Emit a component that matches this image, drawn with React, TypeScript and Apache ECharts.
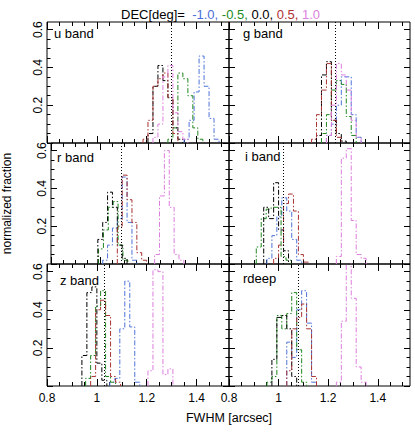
import React, { useEffect, useRef } from 'react';
import * as echarts from 'echarts';

// ---------- data ----------
const BIN_WIDTH = 0.02;
const DEC_VALUES = ['-1.0', '-0.5', '0.0', '0.5', '1.0'];
const BANDS = ['u band', 'g band', 'r band', 'i band', 'z band', 'rdeep'];
const MEDIAN_LINES = [1.3, 1.233, 1.094, 1.02, 1.035, 1.077];

const X_MAJOR = [0.8, 1.0, 1.2, 1.4];
const X_MINOR = [0.85, 0.9, 0.95, 1.05, 1.1, 1.15, 1.25, 1.3, 1.35, 1.45, 1.5];
const Y_MAJOR = [0, 0.2, 0.4, 0.6];
const Y_MINOR = [0.05, 0.1, 0.15, 0.25, 0.3, 0.35, 0.45, 0.5, 0.55];
const Y_LABELED = [0.2, 0.4, 0.6];

// first bin edge of each histogram, in DEC order (-1.0, -0.5, 0.0, 0.5, 1.0)
const U_STARTS = [1.35, 1.285, 1.205, 1.185, 1.225];
const U_FRACS = [
  [0.02, 0.12, 0.27, 0.46, 0.3, 0.13, 0.02],
  [0.02, 0.08, 0.37, 0.34, 0.25, 0.08, 0.02],
  [0.05, 0.3, 0.41, 0.33, 0.24, 0.08, 0.02],
  [0.02, 0.12, 0.3, 0.34, 0.37, 0.24, 0.05],
  [0.03, 0.1, 0.35, 0.41, 0.16, 0.06, 0.02],
];

const G_STARTS = [1.193, 1.173, 1.153, 1.133, 1.193];
const G_FRACS = [
  [0.04, 0.1, 0.2, 0.35, 0.35, 0.15, 0.03],
  [0.05, 0.15, 0.28, 0.33, 0.31, 0.14, 0.04],
  [0.04, 0.36, 0.43, 0.12, 0.05, 0.01],
  [0.02, 0.15, 0.28, 0.42, 0.12, 0.03],
  [0.04, 0.2, 0.42, 0.36, 0.28, 0.12, 0.03],
];

const R_STARTS = [1.012, 0.995, 0.992, 1.072, 1.225];
const R_FRACS = [
  [0.02, 0.1, 0.19, 0.24, 0.46, 0.22, 0.02],
  [0.08, 0.18, 0.3, 0.33, 0.1, 0.02],
  [0.13, 0.22, 0.38, 0.3, 0.1, 0.03],
  [0.2, 0.47, 0.34, 0.22, 0.06, 0.02],
  [0.05, 0.36, 0.6, 0.3, 0.05, 0.02],
];

const I_STARTS = [0.953, 0.91, 0.94, 0.98, 1.233];
const I_FRACS = [
  [0.03, 0.15, 0.25, 0.35, 0.28, 0.13, 0.02],
  [0.09, 0.24, 0.29, 0.3, 0.3, 0.04, 0.02],
  [0.3, 0.24, 0.43, 0.18, 0.07],
  [0.03, 0.1, 0.32, 0.37, 0.28, 0.05, 0.01],
  [0.04, 0.56, 0.61, 0.23, 0.05, 0.03],
];

const Z_STARTS = [1.052, 0.955, 0.94, 0.975, 1.205];
const Z_FRACS = [
  [0.02, 0.04, 0.3, 0.55, 0.31, 0.02],
  [0.04, 0.16, 0.42, 0.5, 0.05, 0.02],
  [0.16, 0.49, 0.52, 0.12, 0.03],
  [0.05, 0.4, 0.45, 0.37, 0.05, 0.02],
  [0.08, 0.61, 0.6, 0.06, 0.09],
];

const D_STARTS = [1.033, 0.953, 0.973, 1.033, 1.233];
const D_FRACS = [
  [0.23, 0.15, 0.4, 0.5, 0.33, 0.02],
  [0.02, 0.05, 0.37, 0.3, 0.38, 0.49, 0.19, 0.02],
  [0.14, 0.36, 0.37, 0.3, 0.05],
  [0.08, 0.3, 0.36, 0.43, 0.3, 0.05],
  [0.02, 0.34, 0.68, 0.46, 0.1, 0.02],
];

const ALL_STARTS = [U_STARTS, G_STARTS, R_STARTS, I_STARTS, Z_STARTS, D_STARTS];
const ALL_FRACS = [U_FRACS, G_FRACS, R_FRACS, I_FRACS, Z_FRACS, D_FRACS];

// ---------- style / layout ----------
const FONT = "'Liberation Sans', Arial, Helvetica, sans-serif";
const SERIES_COLORS = ['#4f74d9', '#1e861e', '#000000', '#a83232', '#dd7ddd'];
const TITLE_COLORS = ['#4a70d8', '#1e8a1e', '#000000', '#b03030', '#e080e0'];
const DASH_DOT = [5, 2, 1.5, 2];
const X_MIN = 0.8;
const X_MAX = 1.53;
const Y_MIN = 0;
const Y_MAX = 0.64;
const COL_LEFT = [47, 229];
const COL_WIDTH = [182, 181];
const ROW_TOP = [22, 143, 264];
const ROW_HEIGHT = [121, 121, 122];
const LABEL_POS = [
  [54, 33],
  [243, 33],
  [57, 157],
  [245, 156],
  [60, 280],
  [243, 278],
];

function stepPoints(start: number, fracs: number[]): number[][] {
  const pts: number[][] = [[start, 0]];
  fracs.forEach((f, i) => {
    const x0 = start + i * BIN_WIDTH;
    pts.push([x0, f], [x0 + BIN_WIDTH, f]);
  });
  pts.push([start + fracs.length * BIN_WIDTH, 0]);
  return pts;
}

function fmtX(v: number) {
  return Math.abs(v - 1) < 1e-9 ? '1' : v.toFixed(1);
}

function buildOption() {
  const grid: any[] = [];
  const xAxis: any[] = [];
  const yAxis: any[] = [];
  const series: any[] = [];
  const graphic: any[] = [];

  BANDS.forEach((band, p) => {
    const col = p % 2;
    const row = Math.floor(p / 2);
    grid.push({
      left: COL_LEFT[col],
      top: ROW_TOP[row],
      width: COL_WIDTH[col],
      height: ROW_HEIGHT[row],
      show: true,
      borderColor: '#000',
      borderWidth: 1,
      backgroundColor: 'transparent',
    });

    const xDefs: [string, number[], number, boolean][] = [
      ['bottom', X_MAJOR, 7, row === 2],
      ['bottom', X_MINOR, 4, false],
      ['top', X_MAJOR, 7, false],
      ['top', X_MINOR, 4, false],
    ];
    xDefs.forEach(([pos, ticks, len, lab]) => {
      xAxis.push({
        type: 'value',
        gridIndex: p,
        position: pos,
        min: X_MIN,
        max: X_MAX,
        splitLine: { show: false },
        axisLine: { show: false, onZero: false },
        axisTick: {
          show: true,
          inside: true,
          length: len,
          customValues: ticks,
          lineStyle: { color: '#000', width: 1 },
        },
        axisLabel: lab
          ? {
              show: true,
              customValues: X_MAJOR,
              formatter: fmtX,
              color: '#000',
              fontSize: 12,
              fontFamily: FONT,
              margin: 6,
            }
          : { show: false },
        axisPointer: { show: false },
      });
    });

    const yDefs: [string, number[], number, boolean][] = [
      ['left', Y_MAJOR, 6, col === 0],
      ['left', Y_MINOR, 3.5, false],
      ['right', Y_MAJOR, 6, false],
      ['right', Y_MINOR, 3.5, false],
    ];
    yDefs.forEach(([pos, ticks, len, lab], k) => {
      const ax: any = {
        type: 'value',
        gridIndex: p,
        position: pos,
        min: Y_MIN,
        max: Y_MAX,
        splitLine: { show: false },
        axisLine: { show: false, onZero: false },
        axisTick: {
          show: true,
          inside: true,
          length: len,
          customValues: ticks,
          lineStyle: { color: '#000', width: 1 },
        },
        axisLabel: lab
          ? {
              show: true,
              customValues: Y_LABELED,
              formatter: (v: number) => v.toFixed(1),
              rotate: 90,
              color: '#000',
              fontSize: 12,
              fontFamily: FONT,
              margin: 3,
            }
          : { show: false },
        axisPointer: { show: false },
      };
      if (p === 2 && k === 0) {
        ax.name = 'normalized fraction';
        ax.nameLocation = 'middle';
        ax.nameGap = 38;
        ax.nameRotate = 90;
        ax.nameTextStyle = { color: '#000', fontSize: 12, fontFamily: FONT };
      }
      yAxis.push(ax);
    });

    const starts = ALL_STARTS[p];
    const fracs = ALL_FRACS[p];
    DEC_VALUES.forEach((dec, s) => {
      const ser: any = {
        type: 'line',
        name: `${band} DEC ${dec}`,
        xAxisIndex: p * 4,
        yAxisIndex: p * 4,
        data: stepPoints(starts[s], fracs[s]),
        showSymbol: false,
        symbol: 'none',
        silent: true,
        clip: true,
        lineStyle: { color: SERIES_COLORS[s], width: 1, type: DASH_DOT },
      };
      if (s === 0) {
        ser.markLine = {
          silent: true,
          symbol: ['none', 'none'],
          label: { show: false },
          lineStyle: { color: '#000', width: 1, type: [1, 2] },
          data: [{ xAxis: MEDIAN_LINES[p] }],
        };
      }
      series.push(ser);
    });

    graphic.push({
      type: 'text',
      x: LABEL_POS[p][0],
      y: LABEL_POS[p][1],
      silent: true,
      style: {
        text: band,
        fill: '#000',
        fontSize: 13,
        fontFamily: FONT,
        align: 'left',
        verticalAlign: 'middle',
      },
    });
  });

  graphic.push({
    type: 'text',
    x: 229,
    y: 418,
    silent: true,
    style: {
      text: 'FWHM [arcsec]',
      fill: '#000',
      fontSize: 12.5,
      fontFamily: FONT,
      align: 'center',
      verticalAlign: 'middle',
    },
  });

  const keys = ['b', 'g', 'k', 'r', 'm'];
  const rich: any = { t: { color: '#000', fontSize: 13, fontFamily: FONT, fontWeight: 'normal' } };
  keys.forEach((k, i) => {
    rich[k] = { color: TITLE_COLORS[i], fontSize: 13, fontFamily: FONT, fontWeight: 'normal' };
  });
  const parts = DEC_VALUES.map((d, i) => `{${keys[i]}|${d}${i < DEC_VALUES.length - 1 ? ',' : ''}}`);
  const titleText = `{t|DEC[deg]=}  ${parts.join(' ')}`;

  return {
    animation: false,
    backgroundColor: '#fff',
    textStyle: { fontFamily: FONT },
    title: {
      text: titleText,
      left: 121,
      top: 8,
      padding: 0,
      textStyle: { rich, fontSize: 13, fontFamily: FONT, fontWeight: 'normal', color: '#000' },
    },
    grid,
    xAxis,
    yAxis,
    series,
    graphic,
  };
}

export default function App() {
  const ref = useRef<HTMLDivElement>(null);
  useEffect(() => {
    if (!ref.current) return;
    const chart = echarts.init(ref.current, null, { renderer: 'svg', width: 415, height: 435 });
    chart.setOption(buildOption() as any);
    return () => chart.dispose();
  }, []);
  return (
    <div
      ref={ref}
      style={{ position: 'fixed', left: 0, top: 0, width: 415, height: 435, background: '#fff' }}
    />
  );
}
